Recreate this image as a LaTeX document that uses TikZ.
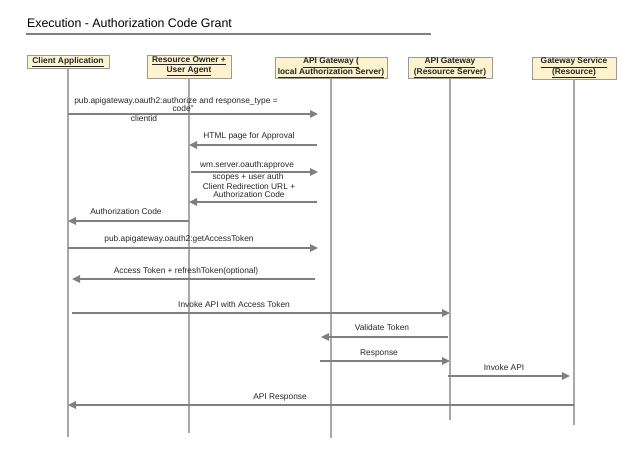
\documentclass[tikz,border=0pt]{standalone}
\usepackage{fontspec}
\setmainfont{Liberation Sans}
\usetikzlibrary{arrows.meta}
\definecolor{boxfill}{HTML}{FDF3CE}
\definecolor{boxline}{HTML}{9A9A9A}
\definecolor{lifeln}{HTML}{A8A8A8}
\definecolor{msgln}{HTML}{7F7F7F}
\definecolor{txt}{HTML}{262626}
\tikzset{
  actor/.style={draw=boxline, fill=boxfill, line width=0.9bp, inner sep=0pt, align=center,
    font=\fontsize{8.4}{9.6}\selectfont\bfseries, text=txt},
  lifeline/.style={draw=lifeln, line width=1.1bp},
  msg/.style={draw=msgln, line width=1.4bp, -{Triangle[length=8bp,width=7.5bp]}},
  lbl/.style={font=\fontsize{8.4}{7.5}\selectfont, text=txt, inner sep=0pt, align=center},
}
\begin{document}
\begin{tikzpicture}[x=1bp,y=-1bp]
\useasboundingbox (0,0) rectangle (631,452);
% title
\node[anchor=west, font=\fontsize{12.4}{14}\selectfont, text=black, inner sep=0pt] (title) at (27,23) {Execution - Authorization Code Grant};
\coordinate (tl) at (26,34);
\coordinate (tr) at (431,34);
\draw[draw=msgln, line width=1.5bp] (tl) -- (tr);

% actors
\node[actor, minimum width=82bp, minimum height=13bp] (client) at (68,62) {\underline{Client Application}};
\node[actor, minimum width=84bp, minimum height=23bp] (ro) at (189,66.5) {\underline{Resource Owner +}\\\underline{User Agent}};
\node[actor, minimum width=112bp, minimum height=21bp] (authz) at (331,68) {\underline{API Gateway (}\\\underline{local Authorization Server)}};
\node[actor, minimum width=84bp, minimum height=21bp] (rs) at (450,68) {\underline{API Gateway}\\\underline{(Resource Server)}};
\node[actor, minimum width=84bp, minimum height=22bp] (gs) at (574,68) {\underline{Gateway Service}\\\underline{(Resource)}};

% lifeline ends
\coordinate (clientEnd) at (68,437);
\coordinate (roEnd) at (189,433);
\coordinate (authzEnd) at (331,438);
\coordinate (rsEnd) at (450,420);
\coordinate (gsEnd) at (574,425);
\draw[lifeline] (client.south) -- (clientEnd);
\draw[lifeline] (ro.south) -- (roEnd);
\draw[lifeline] (authz.south) -- (authzEnd);
\draw[lifeline] (rs.south) -- (rsEnd);
\draw[lifeline] (gs.south) -- (gsEnd);

% messages
\node[lbl] (l1) at (176,104.5) {pub.apigateway.oauth2:authorize and response\_type =\\\hspace*{14bp}code''};
\node[lbl] (l1b) at (144,118.5) {clientid};
\draw[msg] (client.south |- 0,114) -- ([xshift=-13bp]authz.south |- 0,114);

\node[lbl] (l2) at (249,136) {HTML page for Approval};
\draw[msg] ([xshift=-14bp]authz.south |- 0,145) -- (ro.south |- 0,145);

\node[lbl] (l3) at (247,165) {wm.server.oauth:approve};
\node[lbl] (l3b) at (248,177) {scopes + user auth};
\draw[msg] ([xshift=2bp]ro.south |- 0,172) -- ([xshift=-13bp]authz.south |- 0,172);

\node[lbl] (l4) at (249,190.5) {Client Redirection URL +\\Authorization Code};
\draw[msg] ([xshift=-14bp]authz.south |- 0,202) -- (ro.south |- 0,202);

\node[lbl] (l5) at (126,212) {Authorization Code};
\draw[msg] (ro.south |- 0,221) -- (client.south |- 0,221);

\node[lbl] (l6) at (179,239) {pub.apigateway.oauth2:getAccessToken};
\draw[msg] (client.south |- 0,248) -- ([xshift=-13bp]authz.south |- 0,248);

\node[lbl] (l7) at (186,271) {Access Token + refreshToken(optional)};
\draw[msg] ([xshift=-16bp]authz.south |- 0,279) -- ([xshift=4bp]client.south |- 0,279);

\node[lbl] (l8) at (234,305) {Invoke API with Access Token};
\draw[msg] ([xshift=4bp]client.south |- 0,313) -- (rs.south |- 0,313);

\node[lbl] (l9) at (382,328) {Validate Token};
\draw[msg] ([xshift=-2bp]rs.south |- 0,337) -- ([xshift=-10bp]authz.south |- 0,337);

\node[lbl] (l10) at (379,353) {Response};
\draw[msg] ([xshift=-11bp]authz.south |- 0,361) -- (rs.south |- 0,361);

\node[lbl] (l11) at (504,368) {Invoke API};
\draw[msg] ([xshift=-2bp]rs.south |- 0,376) -- ([xshift=-4bp]gs.south |- 0,376);

\node[lbl] (l12) at (280,397) {API Response};
\draw[msg] (gs.south |- 0,405) -- (client.south |- 0,405);
\end{tikzpicture}
\end{document}
